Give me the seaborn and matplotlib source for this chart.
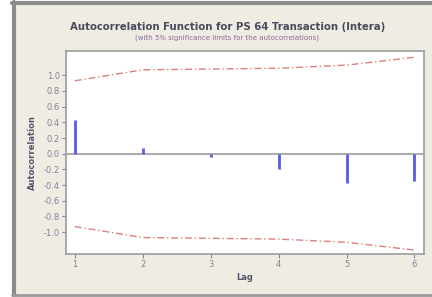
import numpy as np
import pandas as pd
import matplotlib
matplotlib.use("Agg")
import matplotlib.pyplot as plt
from matplotlib.patches import Rectangle
from matplotlib.lines import Line2D
import seaborn as sns

# Datos
lags = [1, 2, 3, 4, 5, 6]
acf = [0.43, 0.07, -0.04, -0.19, -0.38, -0.35]
upper_limit = [0.93, 1.07, 1.08, 1.09, 1.13, 1.23]
lower_limit = [-0.93, -1.07, -1.08, -1.09, -1.13, -1.23]
y_ticks = [1.0, 0.8, 0.6, 0.4, 0.2, 0.0, -0.2, -0.4, -0.6, -0.8, -1.0]

limits_df = pd.DataFrame({
    "Lag": lags + lags,
    "Limit": upper_limit + lower_limit,
    "Side": ["upper"] * len(lags) + ["lower"] * len(lags),
})

sns.set_style("white")
plt.rcParams["font.family"] = ["DejaVu Sans"]

fig = plt.figure(figsize=(4.32, 2.97), dpi=100)
fig.patch.set_facecolor("white")

# Panel beige con borde gris (estilo Minitab)
fig.patches.append(Rectangle((13 / 432, 0.0), 1 - 13 / 432, 1 - 3 / 297,
                             transform=fig.transFigure, facecolor="#efece4",
                             edgecolor="none", zorder=-10))
fig.lines.append(Line2D([13.5 / 432, 13.5 / 432], [2 / 297, 1 - 2 / 297],
                        transform=fig.transFigure, color="#8c8c8c", lw=3, zorder=-5))
fig.lines.append(Line2D([12 / 432, 1], [1 - 2.5 / 297, 1 - 2.5 / 297],
                        transform=fig.transFigure, color="#8c8c8c", lw=3, zorder=-5))
fig.lines.append(Line2D([12 / 432, 1], [2 / 297, 2 / 297],
                        transform=fig.transFigure, color="#9a9a9a", lw=2, zorder=-5))

ax = fig.add_axes([66 / 432, 1 - 254 / 297, (424 - 66) / 432, (254 - 51) / 297])
ax.set_zorder(1)
ax.set_facecolor("white")

sns.lineplot(data=limits_df, x="Lag", y="Limit", units="Side", estimator=None,
             color="#dc8080", linestyle=(0, (5, 2, 1, 2)), lw=1.0, ax=ax)
ax.axhline(0, color="#9c9c9c", lw=1.2, zorder=1)
ax.vlines(lags, 0, acf, color="#5a5ae6", lw=2.0, zorder=3)

ax.set_xlim(0.87, 6.14)
ax.set_ylim(-1.28, 1.31)
ax.set_xticks(lags)
ax.set_yticks(y_ticks)
ax.set_yticklabels([f"{v:.1f}" for v in y_ticks])
ax.tick_params(axis="both", direction="out", length=3, width=0.8,
               colors="#86809a", labelsize=6, pad=1.5, left=True, bottom=True)
for s in ax.spines.values():
    s.set_color("#9c9c9c")
    s.set_linewidth(1.2)

ax.set_xlabel("Lag", fontsize=6, fontweight="bold", color="#55556a", labelpad=3)
ax.set_ylabel("Autocorrelation", fontsize=6, fontweight="bold", color="#55556a", labelpad=5)

fig.text(0.526, 1 - 27 / 297, "Autocorrelation Function for PS 64 Transaction (Intera)",
         ha="center", va="center", fontsize=7.3, fontweight="bold", color="#4a4a5c")
fig.text(0.526, 1 - 38 / 297, "(with 5% significance limits for the autocorrelations)",
         ha="center", va="center", fontsize=5, color="#8a6a98")

fig.savefig("out.png", dpi=100, facecolor=fig.get_facecolor())
